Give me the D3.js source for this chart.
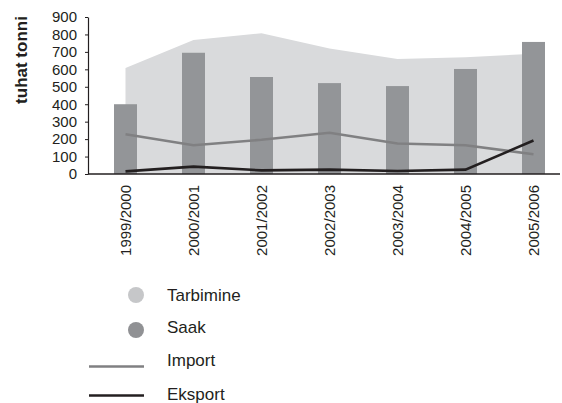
<!DOCTYPE html>
<html>
<head>
<meta charset="utf-8">
<script src="https://cdn.jsdelivr.net/npm/d3@7"></script>
<style>
  body { margin: 0; background: #fff; }
  text { font-family: "Liberation Sans", Arial, sans-serif; fill: #231f20; }
</style>
</head>
<body>
<div class="chart"></div>
<script>
// data (thousand tonnes)
var years = ["1999/2000", "2000/2001", "2001/2002", "2002/2003", "2003/2004", "2004/2005", "2005/2006"];
var tarbimine = [607, 768, 807, 720, 659, 669, 690];
var saak = [400, 695, 556, 521, 504, 602, 757];
var importVals = [228, 165, 196, 236, 175, 165, 113];
var eksportVals = [15, 42, 21, 25, 17, 25, 192];
var yTicks = [0, 100, 200, 300, 400, 500, 600, 700, 800, 900];

var svgWidth = 562, svgHeight = 403;
var margin = { top: 17, left: 88, right: 2 };
var chartHeight = 174 - margin.top;

var svg = d3.select(".chart").append("svg")
  .attr("width", svgWidth)
  .attr("height", svgHeight);

var chartGroup = svg.append("g")
  .attr("transform", `translate(${margin.left}, ${margin.top})`);

var x = d3.scaleBand()
  .domain(years)
  .range([3.5, 3.5 + 68 * years.length]);

var y = d3.scaleLinear()
  .domain([0, 900])
  .range([chartHeight, 0]);

var xc = d => x(d) + x.bandwidth() / 2;

// consumption area
var area = d3.area()
  .x((d, i) => xc(years[i]))
  .y0(y(0))
  .y1(d => y(d));

chartGroup.append("path")
  .datum(tarbimine)
  .attr("d", area)
  .attr("fill", "#d9dadc");

// harvest bars
var barW = 23;
chartGroup.selectAll("rect.saak")
  .data(saak)
  .enter()
  .append("rect")
  .attr("class", "saak")
  .attr("x", (d, i) => xc(years[i]) - barW / 2)
  .attr("y", d => y(d))
  .attr("width", barW)
  .attr("height", d => y(0) - y(d))
  .attr("fill", "#939598");

var line = d3.line()
  .x((d, i) => xc(years[i]))
  .y(d => y(d));

chartGroup.append("path")
  .datum(importVals)
  .attr("d", line)
  .attr("fill", "none")
  .attr("stroke", "#808082")
  .attr("stroke-width", 2.6);

chartGroup.append("path")
  .datum(eksportVals)
  .attr("d", line)
  .attr("fill", "none")
  .attr("stroke", "#231f20")
  .attr("stroke-width", 2.6);

// axes
var yAxis = d3.axisLeft(y).tickValues(yTicks).tickSize(3).tickSizeOuter(0);
var yG = chartGroup.append("g").call(yAxis);
yG.select(".domain").attr("stroke", "#231f20").attr("stroke-width", 1.2);
yG.selectAll(".tick line").attr("stroke", "#231f20");
yG.selectAll(".tick text")
  .attr("x", -11)
  .style("font-size", "15px")
  .style("font-family", "'Liberation Sans', Arial, sans-serif")
  .attr("fill", "#231f20");

chartGroup.append("line")
  .attr("x1", 0)
  .attr("x2", 472)
  .attr("y1", chartHeight)
  .attr("y2", chartHeight)
  .attr("stroke", "#231f20")
  .attr("stroke-width", 1.4);

chartGroup.selectAll("text.xlab")
  .data(years)
  .enter()
  .append("text")
  .attr("class", "xlab")
  .attr("transform", d => `translate(${xc(d) + 5}, ${chartHeight + 11}) rotate(-90)`)
  .attr("text-anchor", "end")
  .style("font-size", "15px")
  .text(d => d);

// y axis label
svg.append("text")
  .attr("transform", "translate(27, 60) rotate(-90)")
  .attr("text-anchor", "middle")
  .style("font-size", "17px")
  .style("font-weight", "bold")
  .text("tuhat tonni");

// legend
var legend = svg.append("g");
var dots = [["Tarbimine", "#c6c7c9", 295, 295], ["Saak", "#909194", 330, 327]];
dots.forEach(function(d) {
  legend.append("circle").attr("cx", 136).attr("cy", d[2]).attr("r", 8).attr("fill", d[1]);
  legend.append("text").attr("x", 167).attr("y", d[3] + 6).style("font-size", "17px").text(d[0]);
});
var lines = [["Import", "#808082", 366.5, 360], ["Eksport", "#231f20", 395.5, 394]];
lines.forEach(function(d) {
  legend.append("line").attr("x1", 89).attr("x2", 144).attr("y1", d[2]).attr("y2", d[2])
    .attr("stroke", d[1]).attr("stroke-width", 2.6);
  legend.append("text").attr("x", 167).attr("y", d[3] + 6).style("font-size", "17px").text(d[0]);
});
</script>
</body>
</html>
